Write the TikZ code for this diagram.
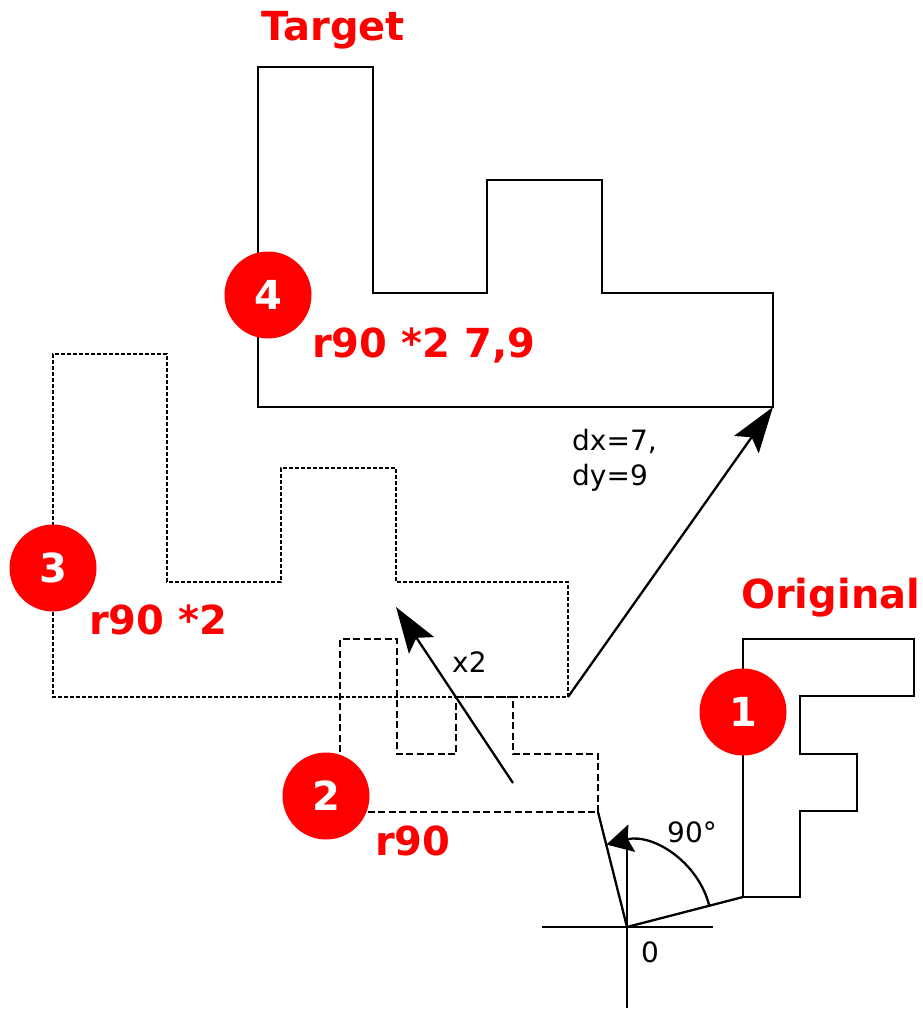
\documentclass[tikz,border=0pt]{standalone}
\usepackage{fontspec}
\setmainfont{DejaVu Sans}
\usetikzlibrary{arrows.meta,calc}
\definecolor{mred}{RGB}{255,0,0}
\begin{document}
\begin{tikzpicture}[x=1pt,y=-1pt,
  shp/.style={line width=2.3pt, line join=miter},
  dshA/.style={shp, dash pattern=on 7pt off 3.5pt},
  dshB/.style={shp, dash pattern=on 4pt off 2pt},
  badge/.style={circle, fill=mred, minimum size=87pt, inner sep=0pt, text=white, font=\fontsize{40}{42}\selectfont\bfseries},
  lbl/.style={text=mred, font=\fontsize{40}{42}\selectfont\bfseries, inner sep=0pt, anchor=base west},
  small/.style={font=\fontsize{28}{35}\selectfont, inner sep=0pt},
  arr/.style={line width=2.3pt, -{Stealth[length=46pt,width=30pt,inset=9pt]}},
  rotarr/.style={line width=2.3pt, -{Stealth[length=26pt,width=28pt,inset=4pt]}},
]
\useasboundingbox (0,0) rectangle (922,1010);

% named points
\coordinate (O) at (627,927);
\coordinate (Fc) at (743,897);
\coordinate (R2) at (598,812);
\coordinate (S3) at (568,697);
\coordinate (T4) at (773,407);
\coordinate (Xs) at (513,783);
\coordinate (Xe) at (396,607);

% axes
\draw[shp] (542,927) -- (713,927);
\draw[shp] (627,845) -- (627,1008);

% original F
\draw[shp] (Fc) -- (800,897) -- (800,811) -- (857,811) -- (857,754) -- (800,754)
  -- (800,696) -- (914,696) -- (914,639) -- (743,639) -- cycle;

% rotated (2)
\draw[dshA] (R2) -- (598,754) -- (513,754) -- (513,697) -- (456,697) -- (456,754)
  -- (397,754) -- (397,639) -- (340,639) -- (340,812) -- cycle;

% scaled (3)
\draw[dshB] (S3) -- (568,582) -- (396,582) -- (396,468) -- (281,468) -- (281,582)
  -- (167,582) -- (167,354) -- (53,354) -- (53,697) -- cycle;

% target (4)
\draw[shp] (T4) -- (773,293) -- (602,293) -- (602,180) -- (487,180) -- (487,293)
  -- (373,293) -- (373,67) -- (258,67) -- (258,407) -- cycle;

% rotation lines and arc
\draw[shp] (O) -- (Fc);
\draw[shp] (O) -- (R2);
\draw[rotarr] ($(O)+(-14:85)$) arc[start angle=-14, end angle=-104, radius=85];

% arrows
\draw[arr] (Xs) -- (Xe);
\draw[arr] (S3) -- (T4);

% small labels
\node[small] (zero) at (650,952) {0};
\node[small, anchor=base west] (deg) at (667,842) {90°};
\node[small, anchor=base west] (xtwo) at (452,672) {x2};
\node[small, anchor=base west, align=left] (dxy) at (572,485) {dx=7,\\dy=9};

% badges
\node[badge] (b1) at (743,712) {1};
\node[badge] (b2) at (326,796) {2};
\node[badge] (b3) at (53,568) {3};
\node[badge] (b4) at (268,295) {4};

% red labels
\node[lbl] (lt) at (261,40) {Target};
\node[lbl] (lo) at (741,608) {Original};
\node[lbl] (l2) at (375,855) {r90};
\node[lbl] (l3) at (89,634) {r90 *2};
\node[lbl] (l4) at (312,357) {r90 *2 7,9};
\end{tikzpicture}
\end{document}
